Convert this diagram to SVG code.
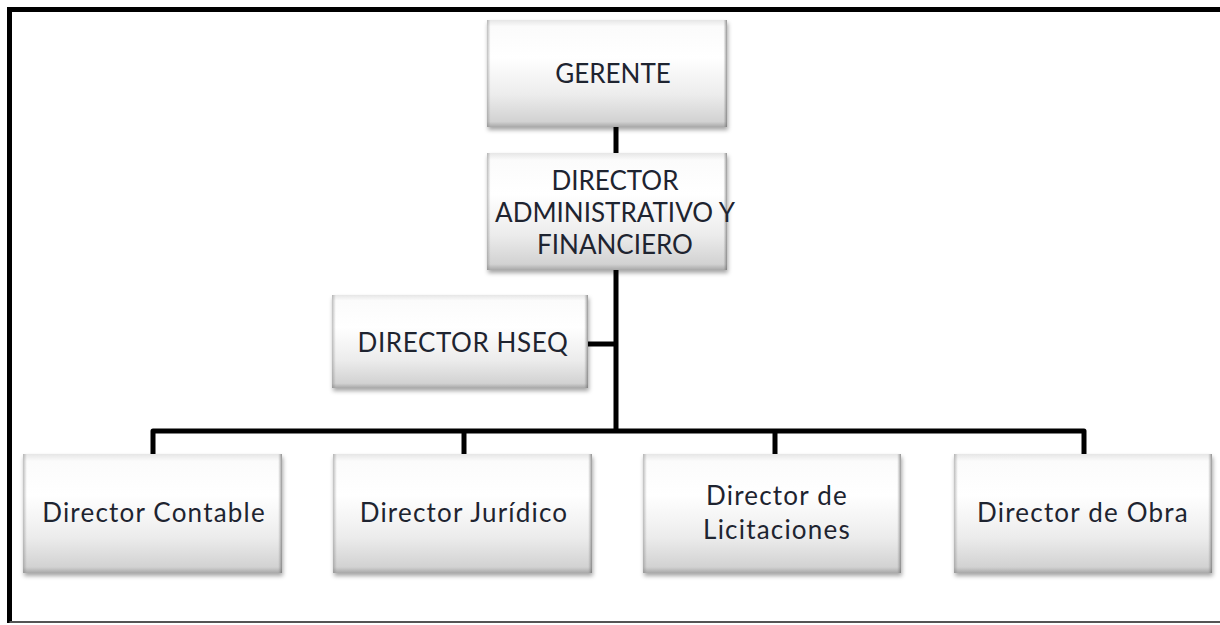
<svg xmlns="http://www.w3.org/2000/svg" width="1220" height="625" viewBox="0 0 1220 625">
  <defs>
    <linearGradient id="fillV" x1="0" y1="0" x2="0" y2="1">
      <stop offset="0" stop-color="#e6e6e6"/>
      <stop offset="0.06" stop-color="#fbfbfb"/>
      <stop offset="0.35" stop-color="#ffffff"/>
      <stop offset="0.7" stop-color="#ececec"/>
      <stop offset="0.95" stop-color="#d2d2d2"/>
      <stop offset="1" stop-color="#a8a8a8"/>
    </linearGradient>
    <linearGradient id="edgeH" x1="0" y1="0" x2="1" y2="0">
      <stop offset="0" stop-color="#8a8a8a" stop-opacity="0.55"/>
      <stop offset="0.015" stop-color="#8a8a8a" stop-opacity="0"/>
      <stop offset="0.985" stop-color="#8a8a8a" stop-opacity="0"/>
      <stop offset="1" stop-color="#6a6a6a" stop-opacity="0.7"/>
    </linearGradient>
    <filter id="shadow" x="-10%" y="-10%" width="120%" height="130%">
      <feDropShadow dx="1" dy="3" stdDeviation="2" flood-color="#000" flood-opacity="0.35"/>
    </filter>
  </defs>
  <style>
    .box { fill: url(#fillV); filter: url(#shadow); }
    .edge { fill: url(#edgeH); }
    .lbl { font-family: Lato, "Open Sans", "Liberation Sans", sans-serif; font-size: 26px; fill: #1e2430; text-anchor: middle; }
    .lc { letter-spacing: 1.2px; }
    .uc2 { letter-spacing: 0.6px; }
    .conn { fill: none; stroke: #000; stroke-width: 5; stroke-linejoin: round; }
    .frame { fill: none; stroke: #000; stroke-width: 5; }
  </style>
  <rect x="0" y="0" width="1220" height="625" fill="#fff"/>

  <g id="frame">
    <polyline class="frame" points="9.5,623 9.5,9.5 1222,9.5"/>
    <line x1="9.5" y1="622" x2="1220" y2="622" stroke="#555" stroke-width="2"/>
  </g>

  <g id="connectors">
    <line class="conn" x1="616" y1="126" x2="616" y2="155" stroke-width="6"/>
    <line class="conn" x1="616" y1="268" x2="616" y2="431"/>
    <line class="conn" x1="588" y1="344" x2="616" y2="344" stroke-width="4"/>
    <polyline class="conn" points="153,455 153,431 1084,431 1084,455"/>
    <line class="conn" x1="464" y1="431" x2="464" y2="455"/>
    <line class="conn" x1="775" y1="431" x2="775" y2="455"/>
  </g>

  <g id="gerente">
    <rect class="box" x="487" y="20" width="240" height="107"/>
    <rect class="edge" x="487" y="20" width="240" height="107"/>
    <text class="lbl" x="613" y="83">GERENTE</text>
  </g>

  <g id="director-administrativo">
    <rect class="box" x="487" y="153" width="240" height="117"/>
    <rect class="edge" x="487" y="153" width="240" height="117"/>
    <text class="lbl" x="615" y="190">DIRECTOR</text>
    <text class="lbl" x="615" y="222">ADMINISTRATIVO Y</text>
    <text class="lbl" x="615" y="254">FINANCIERO</text>
  </g>

  <g id="director-hseq">
    <rect class="box" x="332" y="295" width="256" height="93"/>
    <rect class="edge" x="332" y="295" width="256" height="93"/>
    <text class="lbl uc2" x="463" y="352">DIRECTOR HSEQ</text>
  </g>

  <g id="director-contable">
    <rect class="box" x="23" y="454" width="259" height="119"/>
    <rect class="edge" x="23" y="454" width="259" height="119"/>
    <text class="lbl lc" x="154" y="522">Director Contable</text>
  </g>

  <g id="director-juridico">
    <rect class="box" x="333" y="454" width="259" height="119"/>
    <rect class="edge" x="333" y="454" width="259" height="119"/>
    <text class="lbl lc" x="464" y="522">Director Jurídico</text>
  </g>

  <g id="director-licitaciones">
    <rect class="box" x="643" y="454" width="258" height="119"/>
    <rect class="edge" x="643" y="454" width="258" height="119"/>
    <text class="lbl lc" x="777" y="505">Director de</text>
    <text class="lbl lc" x="777" y="539">Licitaciones</text>
  </g>

  <g id="director-obra">
    <rect class="box" x="954" y="454" width="258" height="119"/>
    <rect class="edge" x="954" y="454" width="258" height="119"/>
    <text class="lbl lc" x="1083" y="522">Director de Obra</text>
  </g>
</svg>
